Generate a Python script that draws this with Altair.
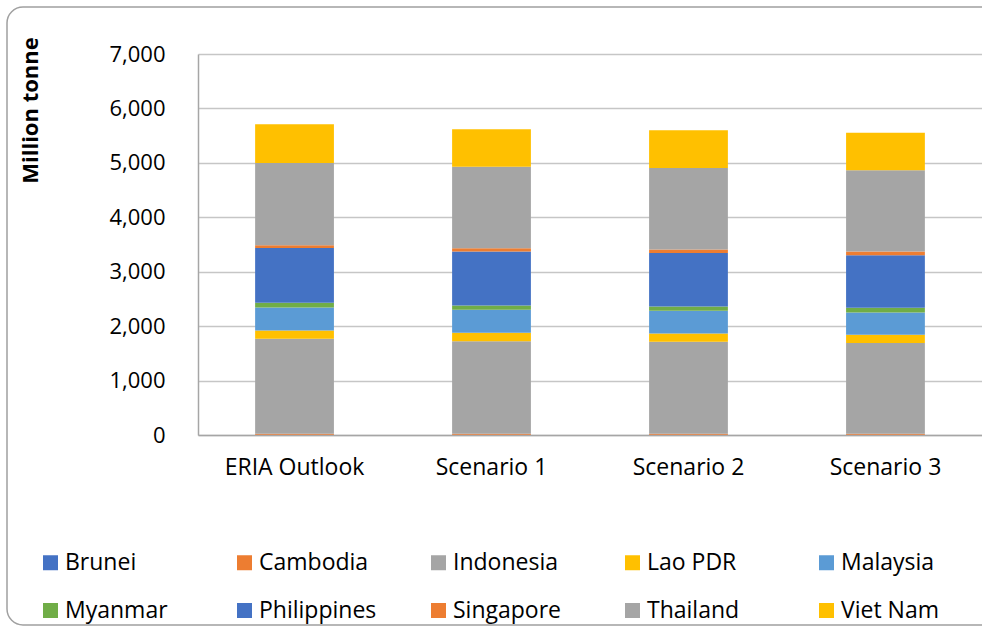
import altair as alt
import pandas as pd

# Scenarios along the x axis
scenarios = ["ERIA Outlook", "Scenario 1", "Scenario 2", "Scenario 3"]

# Countries, stacked bottom to top
countries = ["Brunei", "Cambodia", "Indonesia", "Lao PDR", "Malaysia",
             "Myanmar", "Philippines", "Singapore", "Thailand", "Viet Nam"]

# Million tonne per country, one value per scenario
brunei = [5, 5, 5, 5]
cambodia = [17, 17, 17, 17]
indonesia = [1746, 1702, 1691, 1666]
lao_pdr = [153, 155, 153, 154]
malaysia = [423, 422, 417, 410]
myanmar = [86, 76, 76, 84]
philippines = [1004, 993, 985, 967]
singapore = [50, 62, 62, 70]
thailand = [1513, 1496, 1500, 1489]
viet_nam = [712, 691, 692, 693]

series = [brunei, cambodia, indonesia, lao_pdr, malaysia,
          myanmar, philippines, singapore, thailand, viet_nam]

colors = ["#4472C4", "#ED7D31", "#A5A5A5", "#FFC000", "#5B9BD5",
          "#70AD47", "#4472C4", "#ED7D31", "#A5A5A5", "#FFC000"]

rows = []
for i, (name, vals) in enumerate(zip(countries, series)):
    for scen, v in zip(scenarios, vals):
        rows.append({"scenario": scen, "country": name, "order": i, "value": v})
df = pd.DataFrame(rows)

FONT = "Open Sans"

bars = alt.Chart(df).mark_bar(strokeWidth=0).encode(
    x=alt.X("scenario:N", sort=scenarios, title=None,
            scale=alt.Scale(paddingInner=0.6, paddingOuter=0.29),
            axis=alt.Axis(labelAngle=0, ticks=False, labelPadding=21,
                          labelFontSize=23, labelColor="#000000",
                          domainColor="#A6A6A6", domainWidth=1.5)),
    y=alt.Y("value:Q", stack="zero",
            scale=alt.Scale(domain=[0, 7000], nice=False),
            axis=alt.Axis(values=list(range(0, 7001, 1000)), format=",.0f",
                          ticks=False, labelPadding=33, labelFontSize=22,
                          labelColor="#000000", gridColor="#C6C6C6",
                          gridWidth=1.5, domainColor="#A6A6A6",
                          domainWidth=1.5,
                          title="Million tonne", titleFontSize=22,
                          titleFontWeight="bold", titleColor="#000000",
                          titleX=-168, titleY=56, titleAlign="center",
                          titleBaseline="middle")),
    color=alt.Color("country:N",
                    scale=alt.Scale(domain=countries, range=colors),
                    legend=alt.Legend(title=None, orient="none",
                                      direction="horizontal", columns=5,
                                      gridAlign="all", columnPadding=50,
                                      rowPadding=24, legendX=-159,
                                      legendY=497, padding=0,
                                      symbolType="square",
                                      symbolSize=225, symbolStrokeWidth=0,
                                      symbolOffset=0, labelOffset=3,
                                      labelFontSize=23,
                                      labelColor="#000000")),
    order=alt.Order("order:Q", sort="ascending"),
)

# Rounded outline around the whole chart area
frame = alt.Chart(pd.DataFrame({"k": [0]})).mark_rect(
    fill=None, stroke="#A0A0A0", strokeWidth=1.5, cornerRadius=16
).encode(
    x=alt.value(-191), x2=alt.value(830),
    y=alt.value(-47), y2=alt.value(571),
)

chart = alt.layer(frame, bars).properties(
    width=784, height=381,
    autosize=alt.AutoSizeParams(type="none"),
    padding={"left": 198, "top": 54, "right": 0, "bottom": 194},
).configure(font=FONT).configure_view(strokeWidth=0)

chart.save("out.html", embed_options={"renderer": "svg", "actions": False})
